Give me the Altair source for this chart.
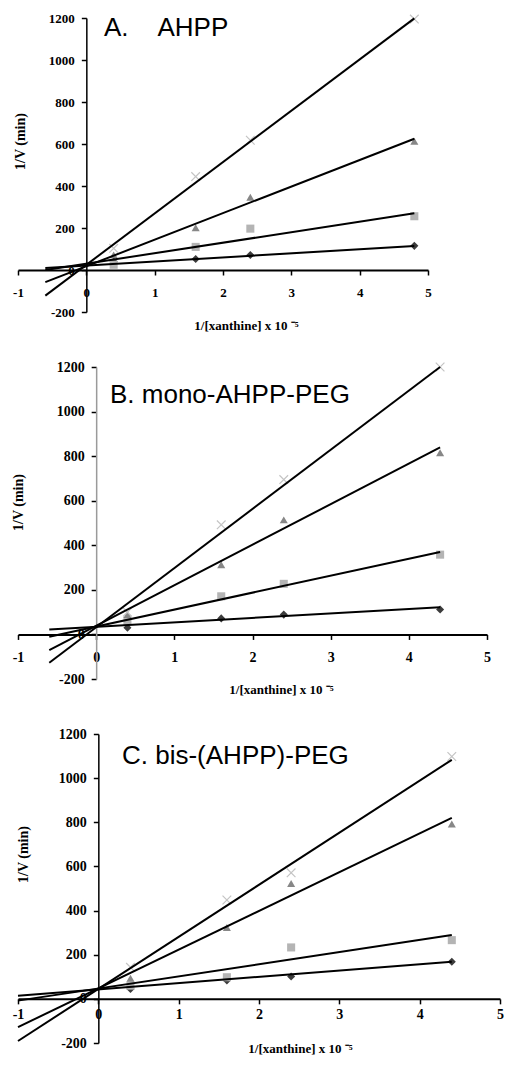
import altair as alt
import pandas as pd

# ---------------- data ----------------
series_names = ["diamond", "square", "triangle", "cross"]

# Panel A (AHPP)
x_A = [0.4, 1.6, 2.4, 4.8]
A_diamond = [40, 52, 71, 115]
A_square = [25, 110, 197, 256]
A_triangle = [72, 201, 346, 613]
A_cross = [103, 445, 618, 1195]
A_line_x = [-0.6, 4.8]
A_line_diamond = [10, 114]
A_line_square = [0, 270]
A_line_triangle = [-58, 625]
A_line_cross = [-122, 1198]

# Panel B (mono-AHPP-PEG)
x_B = [0.4, 1.6, 2.4, 4.4]
B_diamond = [30, 72, 89, 112]
B_square = [60, 171, 227, 358]
B_triangle = [89, 313, 514, 815]
B_cross = [100, 492, 695, 1200]
B_line_x = [-0.6, 4.4]
B_line_diamond = [22, 122]
B_line_square = [-10, 370]
B_line_triangle = [-70, 839]
B_line_cross = [-127, 1200]

# Panel C (bis-(AHPP)-PEG)
x_C = [0.4, 1.6, 2.4, 4.4]
C_diamond = [45, 83, 101, 168]
C_square = [60, 98, 233, 266]
C_triangle = [93, 323, 523, 792]
C_cross = [143, 448, 571, 1098]
C_line_x = [-1.0, 4.4]
C_line_diamond = [14, 168]
C_line_square = [-8, 289]
C_line_triangle = [-128, 820]
C_line_cross = [-191, 1083]

panel_labels = ["A.\u00a0\u00a0\u00a0\u00a0AHPP", "B. mono-AHPP-PEG", "C. bis-(AHPP)-PEG"]
x_ticks = [-1, 0, 1, 2, 3, 4, 5]
y_ticks = [-200, 0, 200, 400, 600, 800, 1000, 1200]
x_title = "1/[xanthine] x 10 \u207b\u2075"
y_title = "1/V (min)"

# ---------------- chart building ----------------
SERIF = "Liberation Serif"
SANS = "Liberation Sans"


def build_table(xs, d, s, t, c):
    rows = []
    for name, vals in zip(series_names, [d, s, t, c]):
        for xv, yv in zip(xs, vals):
            rows.append({"x": xv, "y": yv, "series": name})
    return pd.DataFrame(rows)


def panel(pts, lns, label, W, H, ydomain_color, tick_fs, xlab_pad,
          ytx, yty, xtx, xty, lab_x, lab_y):
    x0_off = -(W * 1.0 / 6.0)          # pixel distance of x=0 from left
    y0_off = -(H * 200.0 / 1400.0)     # pixel distance of y=0 from bottom

    xscale = alt.Scale(domain=[-1, 5], nice=False, zero=False)
    yscale = alt.Scale(domain=[-200, 1200], nice=False, zero=False)

    xaxis = alt.Axis(
        values=x_ticks, offset=y0_off, grid=False, title=x_title,
        labelExpr="datum.value + ''",
        domainColor="black", domainWidth=2, tickColor="black", tickSize=5, tickWidth=1.5,
        labelFont=SERIF, labelFontWeight="bold", labelFontSize=tick_fs, labelColor="black",
        labelFlush=False, labelOverlap=False, labelPadding=xlab_pad,
        titleFont=SERIF, titleFontWeight="bold", titleFontSize=13, titleColor="black",
        titleX=xtx, titleY=xty, titleBaseline="middle", titleAlign="center",
    )
    yaxis = alt.Axis(
        values=y_ticks, offset=x0_off, grid=False, title=y_title,
        labelExpr="datum.value + ''",
        domainColor=ydomain_color, domainWidth=1.5, tickColor="black", tickSize=5, tickWidth=1.5,
        labelFont=SERIF, labelFontWeight="bold", labelFontSize=tick_fs, labelColor="black",
        labelFlush=False, labelOverlap=False, labelPadding=7,
        titleFont=SERIF, titleFontWeight="bold", titleFontSize=14, titleColor="black",
        titleX=ytx, titleY=yty, titleBaseline="middle", titleAlign="center", titleAngle=270,
    )

    base_pts = alt.Chart(pts)
    filled = base_pts.transform_filter(alt.datum.series != "cross").mark_point(
        filled=True, opacity=1, size=65
    ).encode(
        x=alt.X("x:Q", scale=xscale, axis=xaxis),
        y=alt.Y("y:Q", scale=yscale, axis=yaxis),
        shape=alt.Shape("series:N", scale=alt.Scale(
            domain=["diamond", "square", "triangle"],
            range=["diamond", "square", "triangle-up"]), legend=None),
        color=alt.Color("series:N", scale=alt.Scale(
            domain=["diamond", "square", "triangle"],
            range=["#3c3c3c", "#b4b4b4", "#878787"]), legend=None),
    )
    crosses = base_pts.transform_filter(alt.datum.series == "cross").mark_point(
        shape="M-1,-1L1,1M-1,1L1,-1", filled=False, size=75, strokeWidth=1.2,
        color="#c4c4c4", opacity=1
    ).encode(
        x=alt.X("x:Q", scale=xscale, axis=xaxis),
        y=alt.Y("y:Q", scale=yscale, axis=yaxis),
    )
    lines = alt.Chart(lns).mark_line(color="black", strokeWidth=2).encode(
        x=alt.X("x:Q", scale=xscale, axis=xaxis),
        y=alt.Y("y:Q", scale=yscale, axis=yaxis),
        detail="series:N",
    )
    text = alt.Chart(pd.DataFrame({"label": [label]})).mark_text(
        font=SANS, fontSize=26, align="left", baseline="middle", color="black"
    ).encode(text="label:N", x=alt.value(lab_x), y=alt.value(lab_y))

    return alt.layer(filled, crosses, lines, text).properties(width=W, height=H)


pA = panel(build_table(x_A, A_diamond, A_square, A_triangle, A_cross),
           build_table(A_line_x, A_line_diamond, A_line_square, A_line_triangle, A_line_cross),
           panel_labels[0], 410, 294, "black", 13, 11, -66, 123, 228, 55, 86, 10)
pB = panel(build_table(x_B, B_diamond, B_square, B_triangle, B_cross),
           build_table(B_line_x, B_line_diamond, B_line_square, B_line_triangle, B_line_cross),
           panel_labels[1], 469, 312, "#9a9a9a", 14, 11, -78, 135, 263, 55, 92, 28)
pC = panel(build_table(x_C, C_diamond, C_square, C_triangle, C_cross),
           build_table(C_line_x, C_line_diamond, C_line_square, C_line_triangle, C_line_cross),
           panel_labels[2], 482, 309, "black", 14, 4, -75, 120, 282, 50, 104, 22)

chart = alt.vconcat(pA, pB, pC, spacing=55, bounds="flush").resolve_scale(
    x="independent", y="independent"
).properties(padding={"left": 3, "top": 4, "right": 0, "bottom": 0}).configure_view(
    stroke=None
)

chart.save("out.html", embed_options={"renderer": "svg", "actions": False})
